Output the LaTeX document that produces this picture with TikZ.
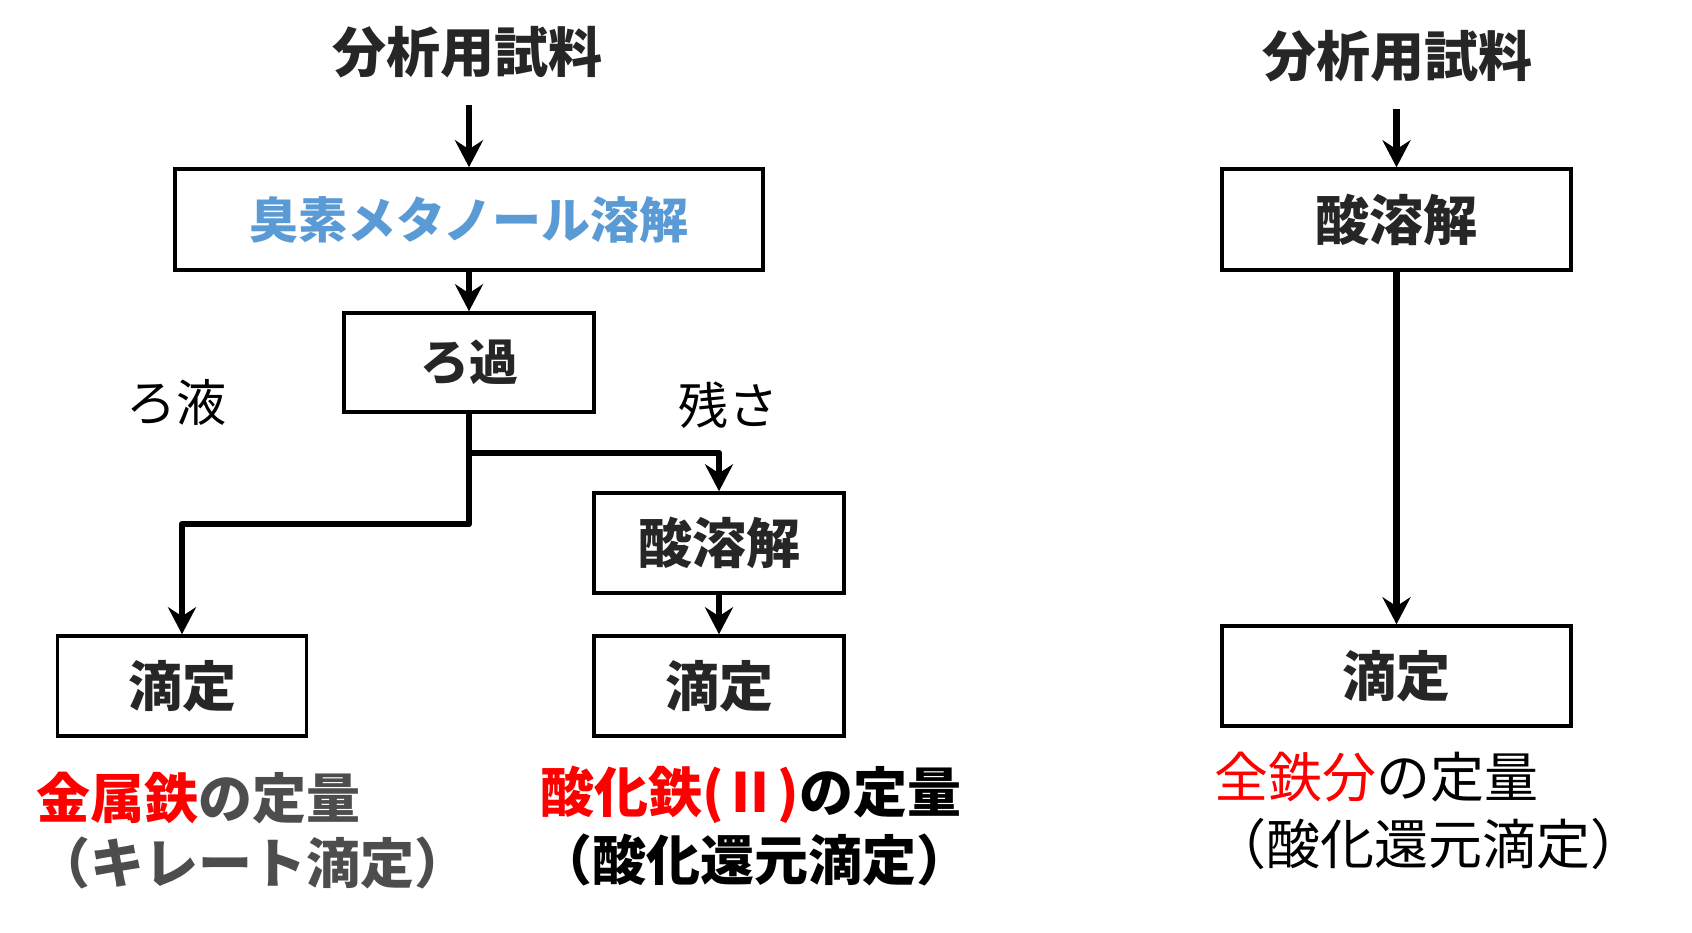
\documentclass[tikz,border=0pt]{standalone}
\usepackage{fontspec}
\setmainfont{Noto Sans CJK JP}
\usetikzlibrary{arrows.meta}
\definecolor{myred}{HTML}{FF0000}
\definecolor{myblue}{HTML}{5B9BD5}
\definecolor{txt}{HTML}{262626}
\definecolor{gry}{HTML}{4D4D4D}
\begin{document}
\begin{tikzpicture}[x=1pt,y=-1pt,
 box/.style={draw=black, line width=3.5pt, inner sep=0pt, font=\fontsize{54}{60}\selectfont\bfseries, text=txt},
 arr/.style={line width=6.5pt, line join=round, -{Stealth[length=27pt,width=28pt,inset=9pt]}},
 lbl/.style={inner sep=0pt, font=\fontsize{50}{60}\selectfont},
 big/.style={inner sep=0pt, font=\fontsize{54}{60}\selectfont\bfseries, text=txt},
 desc/.style={inner sep=0pt, anchor=west, font=\fontsize{54}{60}\selectfont},
 descb/.style={desc, font=\fontsize{54}{60}\selectfont\bfseries}]
\useasboundingbox[fill=white] (0,0) rectangle (1692,932);
% left column
\node[big] (h1) at (467,52) {分析用試料};
\node[box, minimum width=588pt, minimum height=101pt, text=myblue, font=\fontsize{49}{56}\selectfont\bfseries] (b1) at (469,219.5) {臭素メタノール溶解};
\node[box, minimum width=250pt, minimum height=99pt, font=\fontsize{49}{56}\selectfont\bfseries] (b2) at (469,362.5) {ろ過};
\node[lbl] (l1) at (176,402) {ろ液};
\node[lbl] (l2) at (728,405) {残さ};
\node[box, minimum width=250pt, minimum height=100pt] (s1) at (719,543) {酸溶解};
\node[box, minimum width=249pt, minimum height=100pt] (t1) at (182,686) {滴定};
\node[box, minimum width=250pt, minimum height=100pt] (t2) at (719,686) {滴定};
% right column
\node[big] (h2) at (1397,56) {分析用試料};
\node[box, minimum width=349pt, minimum height=101pt] (s2) at (1396.5,219.5) {酸溶解};
\node[box, minimum width=349pt, minimum height=100pt] (t3) at (1396.5,676) {滴定};
% descriptions
\node[descb] (d1) at (36,798) {\textcolor{myred}{金属鉄}\textcolor{gry}{の定量}};
\node[descb, text=gry] (d2) at (36,863) {（キレート滴定）};
\node[descb] (d3) at (540,795) {\textcolor{myred}{酸化鉄(Ⅱ)}の定量};
\node[descb] (d4) at (538,860) {（酸化還元滴定）};
\node[desc] (d5) at (1214,777) {\textcolor{myred}{全鉄分}の定量};
\node[desc] (d6) at (1212,844) {（酸化還元滴定）};
% connectors
\coordinate (a1) at (469,105);
\coordinate (a2) at (1396.5,109);
\draw[arr] (a1) -- (b1.north);
\draw[arr] (b1.south) -- (b2.north);
\draw[arr] (b2.south) -- (b2.south |- 0,524) -| (t1.north);
\draw[arr] (b2.south |- 0,453) -| (s1.north);
\draw[arr] (s1.south) -- (t2.north);
\draw[arr] (a2) -- (s2.north);
\draw[arr] (s2.south) -- (t3.north);
\end{tikzpicture}
\end{document}
